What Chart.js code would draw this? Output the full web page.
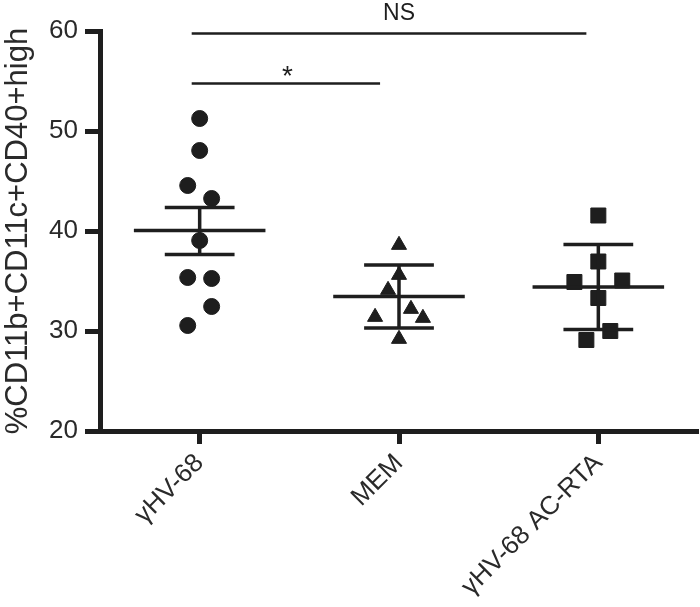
<!DOCTYPE html>
<html>
<head>
<meta charset="utf-8">
<script src="https://cdn.jsdelivr.net/npm/chart.js@4"></script>
<style>
  html, body { margin: 0; padding: 0; background: #fff; }
  #wrap { width: 700px; height: 607px; }
</style>
</head>
<body>
<div id="wrap"><canvas id="dotChart" width="700" height="607"></canvas></div>
<script>
// groups on the x axis
const groups = ['γHV-68', 'MEM', 'γHV-68 AC-RTA'];

// individual points (x = group position + small horizontal jitter)
const gammaX = [1.0, 1.0, 0.94, 1.06, 1.0, 0.94, 1.06, 1.06, 0.94];
const gammaY = [51.25, 48.05, 44.55, 43.25, 39.05, 35.35, 35.25, 32.45, 30.55];
const memX = [2.0, 2.0, 1.945, 2.06, 1.88, 2.12, 2.0];
const memY = [38.6, 35.6, 34.1, 32.2, 31.4, 31.3, 29.2];
const rtaX = [3.0, 3.0, 2.88, 3.12, 3.0, 3.06, 2.94];
const rtaY = [41.55, 36.95, 34.9, 35.05, 33.3, 30.0, 29.1];

// mean and SEM for each group
const means = [40.05, 33.45, 34.4];
const semHigh = [42.35, 36.6, 38.65];
const semLow = [37.65, 30.3, 30.15];

// significance bars
const sigText = ['NS', '*'];
const sigFrom = [0.96, 0.96];
const sigTo = [2.94, 1.905];
const sigY = [59.75, 54.75];
const sigTextX = [2.0, 1.44];

const ink = '#1e1e1e';
const textInk = '#2a2a2a';
const meanHalf = 0.33;
const capHalf = 0.175;

function pts(xs, ys) {
    return xs.map((x, i) => ({ x: x, y: ys[i] }));
}

function summaryData(i) {
    const g = i + 1;
    return [
        { x: g - meanHalf, y: means[i] }, { x: g + meanHalf, y: means[i] }, { x: g, y: null },
        { x: g - capHalf, y: semHigh[i] }, { x: g + capHalf, y: semHigh[i] }, { x: g, y: null },
        { x: g - capHalf, y: semLow[i] }, { x: g + capHalf, y: semLow[i] }, { x: g, y: null },
        { x: g, y: semHigh[i] }, { x: g, y: semLow[i] }
    ];
}

const summaryDatasets = groups.map((name, i) => ({
    label: name + ' mean',
    data: summaryData(i),
    showLine: true,
    spanGaps: false,
    pointRadius: 0,
    borderColor: ink,
    borderWidth: 3.5,
    order: 0
}));

function pointSet(label, data, style, radius) {
    return {
        label: label,
        data: data,
        pointStyle: style,
        pointRadius: radius,
        backgroundColor: ink,
        borderColor: ink,
        borderWidth: 1,
        order: 1
    };
}

const sigPlugin = {
    id: 'sigBars',
    afterDatasetsDraw(chart) {
        const ctx = chart.ctx;
        const xs = chart.scales.x;
        const ys = chart.scales.y;
        ctx.save();
        ctx.strokeStyle = ink;
        ctx.fillStyle = ink;
        ctx.lineWidth = 2.5;
        sigText.forEach((t, i) => {
            const py = ys.getPixelForValue(sigY[i]);
            ctx.beginPath();
            ctx.moveTo(xs.getPixelForValue(sigFrom[i]), py);
            ctx.lineTo(xs.getPixelForValue(sigTo[i]), py);
            ctx.stroke();
            ctx.textAlign = 'center';
            if (t === '*') {
                ctx.font = '28px "Liberation Sans", Arial, sans-serif';
                ctx.textBaseline = 'alphabetic';
                ctx.fillText(t, xs.getPixelForValue(sigTextX[i]), py + 1);
            } else {
                ctx.font = '23px "Liberation Sans", Arial, sans-serif';
                ctx.textBaseline = 'middle';
                ctx.fillText(t, xs.getPixelForValue(sigTextX[i]), py - 20);
            }
        });
        ctx.restore();
    }
};

const labelFont = { family: '"Liberation Sans", Arial, sans-serif', size: 26 };

new Chart(document.getElementById('dotChart'), {
    type: 'scatter',
    data: {
        datasets: [
            ...summaryDatasets,
            pointSet(groups[0], pts(gammaX, gammaY), 'circle', 8),
            pointSet(groups[1], pts(memX, memY), 'triangle', 8.7),
            pointSet(groups[2], pts(rtaX, rtaY), 'rect', 10.6)
        ]
    },
    options: {
        responsive: false,
        animation: false,
        devicePixelRatio: 1,
        layout: { autoPadding: false, padding: { top: 31, right: 2, left: 0, bottom: 0 } },
        plugins: {
            legend: { display: false },
            tooltip: { enabled: false }
        },
        scales: {
            x: {
                type: 'linear',
                min: 0.5,
                max: 3.5,
                afterBuildTicks: s => { s.ticks = [1, 2, 3].map(v => ({ value: v })); },
                afterFit: s => { s.height = 176; s.paddingLeft = 0; s.paddingRight = 0; },
                ticks: {
                    callback: v => groups[v - 1],
                    autoSkip: false,
                    minRotation: 45,
                    maxRotation: 45,
                    padding: 4,
                    color: textInk,
                    font: labelFont
                },
                grid: {
                    drawOnChartArea: false,
                    tickLength: 13,
                    tickWidth: 5,
                    tickColor: ink
                },
                border: { width: 5, color: ink }
            },
            y: {
                min: 20,
                max: 60,
                afterFit: s => { s.width = 100; s.paddingTop = 0; s.paddingBottom = 0; },
                ticks: {
                    stepSize: 10,
                    padding: 7,
                    color: textInk,
                    font: labelFont
                },
                grid: {
                    drawOnChartArea: false,
                    tickLength: 15,
                    tickWidth: 5,
                    tickColor: ink
                },
                border: { width: 5, color: ink },
                title: {
                    display: true,
                    text: '%CD11b+CD11c+CD40+high',
                    color: textInk,
                    padding: 0,
                    font: { family: '"Liberation Sans", Arial, sans-serif', size: 31 }
                }
            }
        }
    },
    plugins: [sigPlugin]
});
</script>
</body>
</html>
